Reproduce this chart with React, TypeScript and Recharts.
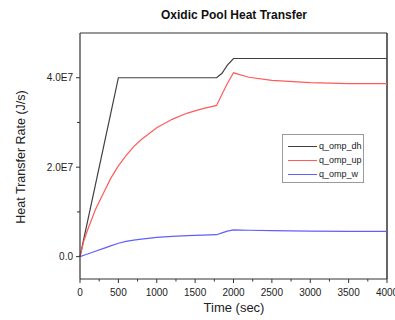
import React from 'react';
import { LineChart, Line, XAxis, YAxis, ReferenceLine, Legend, Label } from 'recharts';

const timeSec = [0, 50, 100, 200, 300, 400, 500, 600, 700, 800, 1000, 1200, 1400, 1600, 1780, 1850, 1920, 2000, 2200, 2500, 3000, 3500, 4000];
const qOmpDh = [0, 4.0e6, 8.0e6, 16.0e6, 24.0e6, 32.0e6, 40.0e6, 40.0e6, 40.0e6, 40.0e6, 40.0e6, 40.0e6, 40.0e6, 40.0e6, 40.0e6, 41.0e6, 42.8e6, 44.3e6, 44.3e6, 44.3e6, 44.3e6, 44.3e6, 44.3e6];
const qOmpUp = [0, 3.5e6, 6.0e6, 10.5e6, 14.0e6, 17.5e6, 20.3e6, 22.6e6, 24.6e6, 26.2e6, 28.8e6, 30.7e6, 32.1e6, 33.1e6, 33.8e6, 36.3e6, 38.7e6, 41.1e6, 40.1e6, 39.4e6, 38.9e6, 38.7e6, 38.7e6];
const qOmpW = [0, 0.3e6, 0.6e6, 1.2e6, 1.8e6, 2.4e6, 3.0e6, 3.4e6, 3.7e6, 3.9e6, 4.3e6, 4.55e6, 4.7e6, 4.8e6, 4.9e6, 5.3e6, 5.7e6, 6.0e6, 5.9e6, 5.8e6, 5.7e6, 5.65e6, 5.65e6];

const xTicks = [0, 250, 500, 750, 1000, 1250, 1500, 1750, 2000, 2250, 2500, 2750, 3000, 3250, 3500, 3750, 4000];
const yTicks = [0, 1e7, 2e7, 3e7, 4e7];
const yLabels: Record<number, string> = { 0: '0.0', 20000000: '2.0E7', 40000000: '4.0E7' };

const seriesNames = ['q_omp_dh', 'q_omp_up', 'q_omp_w'];
const seriesColors = ['#404040', '#ff5a5a', '#5f5fff'];

const data = timeSec.map((t, i) => ({ t, dh: qOmpDh[i], up: qOmpUp[i], w: qOmpW[i] }));

const FONT = '"Liberation Sans", Arial, sans-serif';
const AXIS = '#333333';

const XTick = (props: any) => {
  const { x, y, payload } = props;
  const major = payload.value % 500 === 0;
  return (
    <g>
      <line x1={x} y1={y} x2={x} y2={y + (major ? 4 : 2.5)} stroke={AXIS} strokeWidth={1} />
      {major && (
        <text x={x} y={y + 13} textAnchor="middle" dominantBaseline="central" fontSize={10} fill="#222" fontFamily={FONT}>
          {payload.value}
        </text>
      )}
    </g>
  );
};

const YTick = (props: any) => {
  const { x, y, payload } = props;
  const label = yLabels[payload.value];
  return (
    <g>
      <line x1={x - (label ? 4 : 3)} y1={y} x2={x} y2={y} stroke={AXIS} strokeWidth={1} />
      {label && (
        <text x={x - 7} y={y} textAnchor="end" dominantBaseline="central" fontSize={10} fill="#222" fontFamily={FONT}>
          {label}
        </text>
      )}
    </g>
  );
};

const LegendBox = () => (
  <div
    style={{
      width: 82,
      height: 49,
      boxSizing: 'border-box',
      border: '1px solid #9a9a9a',
      background: '#fff',
      fontFamily: FONT,
      fontSize: 9,
      color: '#222',
      paddingTop: 4,
    }}
  >
    {seriesNames.map((n, i) => (
      <div key={n} style={{ display: 'flex', alignItems: 'center', height: 14 }}>
        <div style={{ marginLeft: 5, width: 29, height: 0, borderTop: `1.2px solid ${seriesColors[i]}` }} />
        <span style={{ marginLeft: 2 }}>{n}</span>
      </div>
    ))}
  </div>
);

export default function App() {
  return (
    <div style={{ position: 'absolute', left: 0, top: 0, width: 395, height: 320, background: '#fff' }}>
      <div
        style={{
          position: 'absolute',
          left: 134,
          top: 8,
          width: 200,
          textAlign: 'center',
          fontFamily: FONT,
          fontWeight: 'bold',
          fontSize: 12,
          color: '#111',
        }}
      >
        Oxidic Pool Heat Transfer
      </div>
      <LineChart width={395} height={320} data={data} margin={{ top: 33, right: 8, left: 0, bottom: 0 }}>
        <XAxis
          dataKey="t"
          type="number"
          domain={[0, 4000]}
          ticks={xTicks}
          interval={0}
          height={41}
          tickSize={0}
          tickMargin={0}
          tickLine={false}
          tick={<XTick />}
          axisLine={{ stroke: AXIS, strokeWidth: 1.2 }}
        >
          <Label
            content={() => (
              <text x={234} y={307} textAnchor="middle" dominantBaseline="central" fontSize={13} fill="#222" fontFamily={FONT}>
                Time (sec)
              </text>
            )}
          />
        </XAxis>
        <YAxis
          type="number"
          domain={[-5e6, 5e7]}
          ticks={yTicks}
          interval={0}
          width={80}
          tickSize={0}
          tickMargin={0}
          tickLine={false}
          tick={<YTick />}
          axisLine={{ stroke: AXIS, strokeWidth: 1.2 }}
        >
          <Label
            content={() => (
              <text
                x={21}
                y={157}
                transform="rotate(-90 21 157)"
                textAnchor="middle"
                dominantBaseline="central"
                fontSize={12.5}
                fill="#222"
                fontFamily={FONT}
              >
                Heat Transfer Rate (J/s)
              </text>
            )}
          />
        </YAxis>
        <ReferenceLine y={5e7} stroke={AXIS} strokeWidth={1.2} ifOverflow="visible" />
        <ReferenceLine x={4000} stroke={AXIS} strokeWidth={1.5} ifOverflow="visible" />
        <Line type="linear" dataKey="dh" name={seriesNames[0]} stroke={seriesColors[0]} strokeWidth={1.2} dot={false} isAnimationActive={false} />
        <Line type="linear" dataKey="up" name={seriesNames[1]} stroke={seriesColors[1]} strokeWidth={1.2} dot={false} isAnimationActive={false} />
        <Line type="linear" dataKey="w" name={seriesNames[2]} stroke={seriesColors[2]} strokeWidth={1.2} dot={false} isAnimationActive={false} />
        <Legend
          layout="vertical"
          align="center"
          verticalAlign="middle"
          content={() => <LegendBox />}
          wrapperStyle={{ position: 'absolute', left: 282, top: 134, width: 82, height: 49 }}
        />
      </LineChart>
    </div>
  );
}
